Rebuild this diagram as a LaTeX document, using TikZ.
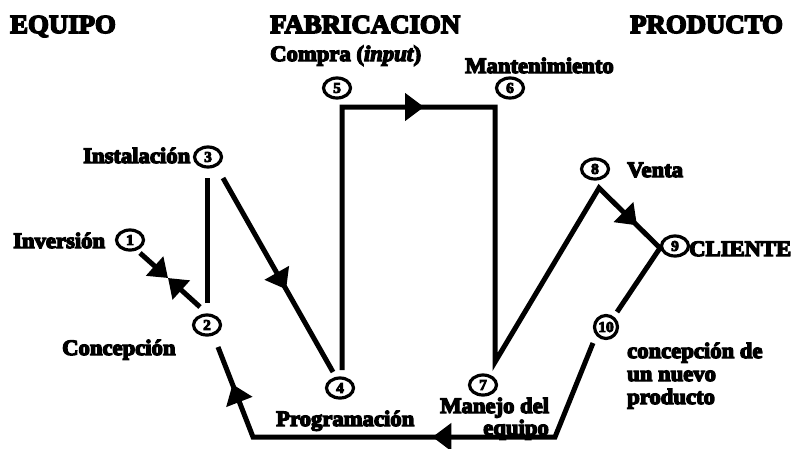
\documentclass[tikz,border=0pt]{standalone}
\usepackage{fontspec}
\newfontfamily\heavy{Liberation Serif Bold}[FakeBold=6,FakeStretch=1.03,ItalicFont={Liberation Serif Bold Italic},ItalicFeatures={FakeBold=6}]
\usetikzlibrary{arrows.meta,shapes.geometric,decorations.markings}
\tikzset{
  num/.style={ellipse,draw,line width=3.2pt,minimum width=27pt,minimum height=20pt,inner sep=0pt,font=\fontsize{15}{15}\heavy},
  lab/.style={inner sep=0pt,anchor=base west,font=\fontsize{22}{22}\heavy},
  labr/.style={inner sep=0pt,anchor=base east,font=\fontsize{22}{22}\heavy},
  ttl/.style={inner sep=0pt,anchor=base west,font=\fontsize{26}{26}\heavy},
  flow/.style={line width=5pt,line join=miter},
  headend/.style={-{Triangle[length=18pt,width=25pt]}},
  markone/.style={postaction={decorate,decoration={markings,
      mark=at position #1 with {\arrow{Triangle[length=19pt,width=27pt]}}}}},
  marktwo/.style 2 args={postaction={decorate,decoration={markings,
      mark=at position #1 with {\arrow{Triangle[length=19pt,width=27pt]}},
      mark=at position #2 with {\arrow{Triangle[length=19pt,width=27pt]}}}}}
}
\begin{document}
\begin{tikzpicture}[x=1pt,y=-1pt]
\useasboundingbox (0,0) rectangle (805,448);
% titles
\node[ttl] (tequipo) at (10,33) {EQUIPO};
\node[ttl] (tfab) at (270,33) {FABRICACION};
\node[ttl] (tprod) at (630,33) {PRODUCTO};
% numbered ellipses
\node[num] (n1) at (130,240) {1};
\node[num] (n2) at (207,325) {2};
\node[num] (n3) at (208,157) {3};
\node[num] (n4) at (340,388) {4};
\node[num] (n5) at (337,88) {5};
\node[num] (n6) at (510,88) {6};
\node[num] (n7) at (483,385) {7};
\node[num] (n8) at (595,169) {8};
\node[num] (n9) at (675,246) {9};
\node[num,minimum width=23pt,minimum height=23pt] (n10) at (606,327) {10};
% labels
\node[lab] (lcompra) at (270,61) {Compra (\textit{input})};
\node[lab] (lmant) at (465,73) {Mantenimiento};
\node[lab] (linst) at (83,163) {Instalación};
\node[lab] (linv) at (13,248) {Inversión};
\node[lab] (lconc) at (62,355) {Concepción};
\node[lab] (lprog) at (276,426) {Programación};
\node[lab] (lman) at (440,413) {Manejo del};
\node[labr] (lequipo) at (549,435) {equipo};
\node[lab] (lventa) at (627,177) {Venta};
\node[lab] (lcli) at (689,256) {CLIENTE};
\node[lab] (lnuevo1) at (627,358) {concepción de};
\node[lab] (lnuevo2) at (627,381) {un nuevo};
\node[lab] (lnuevo3) at (627,404) {producto};
% connector end points
\coordinate (a1) at (140,253);
\coordinate (a2) at (200,307);
\coordinate (am) at (168,278);
\coordinate (b1) at (207,178);
\coordinate (b2) at (207,303);
\coordinate (c1) at (223,178);
\coordinate (c2) at (333,372);
\coordinate (d1) at (342,370);
\coordinate (d2) at (342,107);
\coordinate (d3) at (495,107);
\coordinate (d4) at (495,362);
\coordinate (d5) at (599,188);
\coordinate (d6) at (660,248);
\coordinate (d7) at (617,312);
\coordinate (e1) at (593,343);
\coordinate (e2) at (555,437);
\coordinate (e3) at (253,437);
\coordinate (e4) at (218,347);
% connectors
\draw[flow,headend] (a1) -- (am);
\draw[flow,headend] (a2) -- (am);
\draw[flow] (b1) -- (b2);
\draw[flow,markone=128pt] (c1) -- (c2);
\draw[flow,marktwo={345pt}{927pt}] (d1) -- (d2) -- (d3) -- (d4) -- (d5) -- (d6) -- (d7);
\draw[flow,marktwo={224pt}{460pt}] (e1) -- (e2) -- (e3) -- (e4);
\end{tikzpicture}
\end{document}
